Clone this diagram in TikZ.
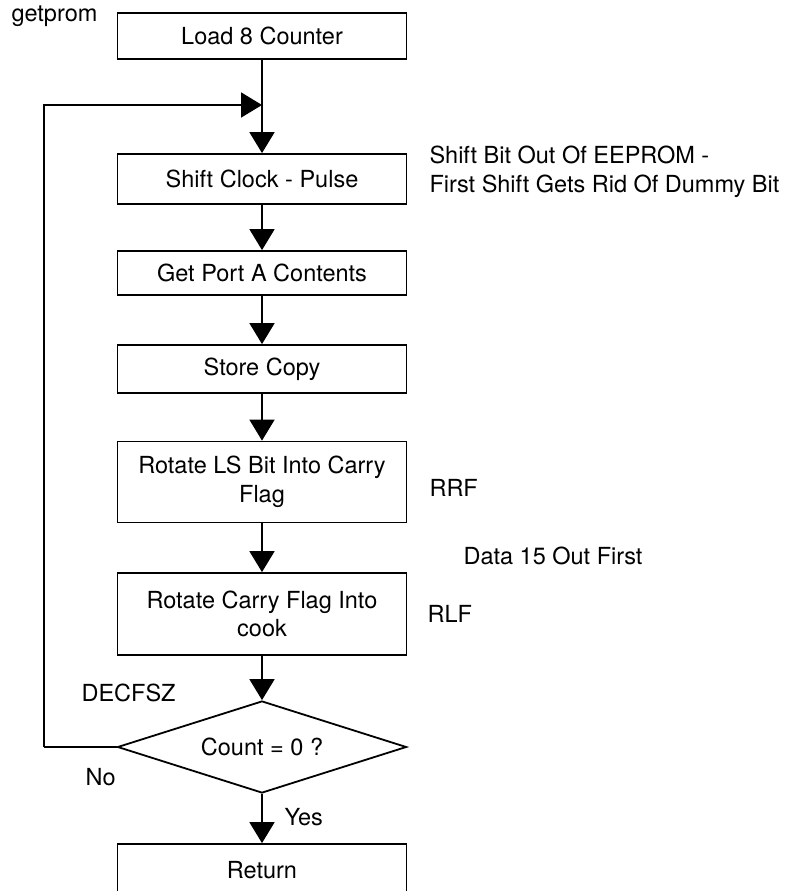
\documentclass[tikz,border=0pt]{standalone}
\usepackage{fontspec}
\setmainfont{TeX Gyre Heros}
\usetikzlibrary{shapes.geometric,arrows.meta}
\begin{document}
\begin{tikzpicture}[x=1pt, y=-1pt,
        every node/.style={font=\fontsize{23.5}{28.5}\selectfont},
        stepbox/.style={rectangle, draw, line width=1.8pt,
            minimum width=289pt, align=center, inner sep=0pt},
        testbox/.style={diamond, draw, line width=1.8pt, aspect=3,
            minimum width=289pt, minimum height=92pt, inner sep=0pt},
        arrow/.style={-{Triangle[length=21pt,width=25pt]}, line width=1.8pt},
        link/.style={line width=1.8pt},
        note/.style={anchor=west, align=left}
      ]
      \path[use as bounding box, clip] (0,0) rectangle (791,891);
      \node[stepbox, minimum height=46pt] (load) at (262, 36)
      {Load 8 Counter};
      \coordinate (join) at (262, 105);
      \node[stepbox, minimum height=50pt] (shift) at (262, 179)
      {Shift Clock - Pulse};
      \node[stepbox, minimum height=44pt] (port) at (262, 273)
      {Get Port A Contents};
      \node[stepbox, minimum height=48pt] (store) at (262, 369)
      {Store Copy};
      \node[stepbox, minimum height=81pt] (rotls) at (262, 482)
      {Rotate LS Bit Into Carry\\Flag};
      \node[stepbox, minimum height=82pt] (rotcf) at (262, 614)
      {Rotate Carry Flag Into\\cook};
      \node[testbox] (test) at (262, 747) {Count = 0 ?};
      \node[stepbox, minimum height=52pt] (ret) at (262, 870)
      {Return};
      \coordinate (corner) at (44, 747);
      % labels
      \node[anchor=base west] (entry) at (8, 22) {getprom};
      \node[note] (shiftnote) at (426, 172)
      {Shift Bit Out Of EEPROM -\\First Shift Gets Rid Of Dummy Bit};
      \node[note] (rrf) at (426, 488) {RRF};
      \node[note] (datanote) at (460, 556) {Data 15 Out First};
      \node[note] (rlf) at (424, 614) {RLF};
      \node[note] (dec) at (78, 693) {DECFSZ};
      \node[note] (no) at (82, 777) {No};
      \node[note] (yes) at (281, 817) {Yes};
      % connectors
      \draw[arrow] (load.south)  -- (shift.north);
      \draw[arrow] (shift.south) -- (port.north);
      \draw[arrow] (port.south)  -- (store.north);
      \draw[arrow] (store.south) -- (rotls.north);
      \draw[arrow] (rotls.south) -- (rotcf.north);
      \draw[arrow] (rotcf.south) -- (test.north);
      \draw[arrow] (test.south)  -- (ret.north);
      \draw[link] (test.west) -- (corner);
      \draw[arrow] (corner) |- (join);
    \end{tikzpicture}
\end{document}
